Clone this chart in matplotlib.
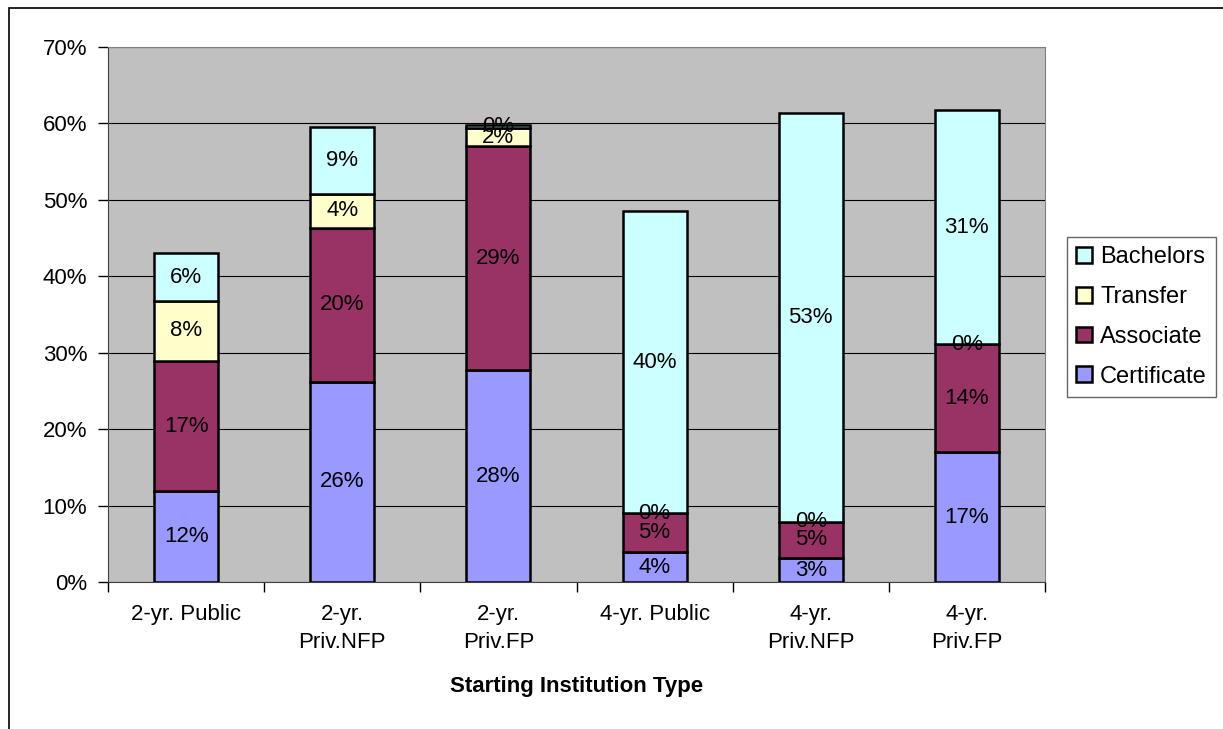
import numpy as np
import matplotlib.pyplot as plt
from matplotlib.patches import Rectangle

plt.rcParams['font.family'] = ['Liberation Sans', 'DejaVu Sans']

categories = ['2-yr. Public', '2-yr.\nPriv.NFP', '2-yr.\nPriv.FP',
              '4-yr. Public', '4-yr.\nPriv.NFP', '4-yr.\nPriv.FP']
certificate = [11.9, 26.2, 27.7, 3.9, 3.1, 17.0]
associate = [17.0, 20.1, 29.3, 5.1, 4.8, 14.1]
transfer = [7.9, 4.5, 2.4, 0.0, 0.0, 0.0]
bachelors = [6.2, 8.7, 0.4, 39.5, 53.4, 30.6]

series = [('Certificate', certificate, '#9999FF'),
          ('Associate', associate, '#993366'),
          ('Transfer', transfer, '#FFFFCC'),
          ('Bachelors', bachelors, '#CCFFFF')]

fs = 16

fig = plt.figure(figsize=(12.23, 7.29), dpi=100)
ax = fig.add_axes([108 / 1223, 1 - 582 / 729, (1045 - 108) / 1223, (582 - 47) / 729])
ax.set_facecolor('#C0C0C0')

x = np.arange(len(categories))
bottom = np.zeros(len(categories))
handles = []
for name, vals, color in series:
    vals = np.array(vals)
    bars = ax.bar(x, vals, 0.41, bottom=bottom, color=color, edgecolor='black',
                  linewidth=1.8, label=name, zorder=3)
    handles.append(bars)
    for xi, b, v in zip(x, bottom, vals):
        ax.text(xi, b + v / 2, f'{round(v):.0f}%', ha='center', va='center',
                fontsize=fs, zorder=4)
    bottom += vals

ax.set_xlim(-0.5, len(categories) - 0.5)
ax.set_ylim(0, 70)
ax.set_yticks(range(0, 71, 10))
ax.set_yticklabels([f'{v}%' for v in range(0, 71, 10)], fontsize=fs)
ax.yaxis.grid(True, color='black', linewidth=0.8, zorder=0)
ax.set_axisbelow(True)

ax.set_xticks(x)
ax.set_xticklabels(categories, fontsize=fs, linespacing=1.45, va='top')
ax.tick_params(axis='x', length=0, pad=16)
ax.set_xticks(np.arange(-0.5, len(categories), 1), minor=True)
ax.tick_params(axis='x', which='minor', length=7, width=1, direction='out')
ax.tick_params(axis='y', length=7, width=1, direction='out', pad=8)

for side in ['top', 'right']:
    ax.spines[side].set_color('#808080')
for side in ['left', 'bottom']:
    ax.spines[side].set_color('#404040')

ax.set_xlabel('Starting Institution Type', fontsize=fs, fontweight='bold', labelpad=16)

leg = ax.legend(handles[::-1], [s[0] for s in series][::-1], loc='upper left',
                bbox_to_anchor=(1067 / 1223, 1 - 237 / 729), bbox_transform=fig.transFigure,
                fontsize=fs + 1, frameon=True, fancybox=False, edgecolor='#404040',
                handlelength=0.65, handleheight=0.65, handletextpad=0.35,
                borderpad=0.4, labelspacing=0.75, borderaxespad=0)
leg.get_frame().set_linewidth(1)

fig.patches.append(Rectangle((9 / 1223, -0.1), 1.2, 1 - 8 / 729 + 0.1,
                             transform=fig.transFigure, fill=False,
                             edgecolor='black', linewidth=1.2))

fig.savefig('out.png', dpi=100)
